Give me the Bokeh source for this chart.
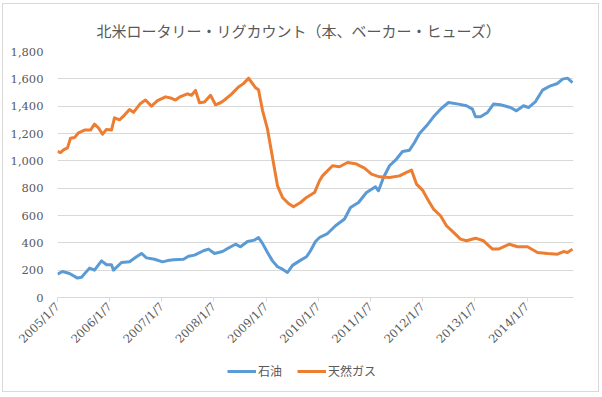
from datetime import datetime
import pandas as pd
from bokeh.plotting import figure
from bokeh.layouts import column
from bokeh.models import (ColumnDataSource, Range1d, FixedTicker, NumeralTickFormatter,
                          CustomJSTickFormatter, Legend, LegendItem)
from bokeh.embed import file_html
from bokeh.resources import INLINE
from math import pi

title_text = "北米ロータリー・リグカウント（本、ベーカー・ヒューズ）"
series_names = ["石油", "天然ガス"]

oil_dates = ["2005-01-07", "2005-02-11", "2005-04-01", "2005-05-27", "2005-06-24", "2005-08-19",
             "2005-09-23", "2005-11-11", "2005-12-16", "2006-01-20", "2006-02-03", "2006-03-31",
             "2006-05-26", "2006-07-14", "2006-08-18", "2006-09-22", "2006-11-17", "2007-01-13",
             "2007-02-16", "2007-03-30", "2007-06-08", "2007-07-13", "2007-08-24", "2007-10-26",
             "2007-11-30", "2008-01-11", "2008-03-07", "2008-04-18", "2008-06-06", "2008-07-11",
             "2008-08-29", "2008-10-17", "2008-11-14", "2008-12-12", "2009-01-16", "2009-02-20",
             "2009-03-27", "2009-05-01", "2009-06-05", "2009-07-10", "2009-08-28", "2009-10-16",
             "2009-11-13", "2009-12-18", "2010-01-15", "2010-03-12", "2010-05-07", "2010-07-09",
             "2010-08-20", "2010-10-15", "2010-12-10", "2011-02-11", "2011-03-04", "2011-04-08",
             "2011-05-20", "2011-07-08", "2011-08-19", "2011-10-07", "2011-11-11", "2011-12-16",
             "2012-02-03", "2012-03-23", "2012-05-11", "2012-07-06", "2012-09-14", "2012-11-09",
             "2012-12-21", "2013-01-11", "2013-02-15", "2013-04-05", "2013-05-17", "2013-07-05",
             "2013-09-13", "2013-10-25", "2013-12-13", "2014-01-17", "2014-03-07", "2014-04-25",
             "2014-06-20", "2014-08-08", "2014-09-12", "2014-10-17", "2014-11-21"]
oil_values = [171, 190, 176, 142, 148, 215,
              200, 268, 240, 240, 200, 256,
              261, 298, 322, 290, 280, 261,
              270, 276, 280, 302, 310, 342,
              354, 322, 337, 362, 390, 371,
              410, 420, 439, 396, 329, 268,
              225, 207, 183, 235, 268, 298,
              342, 410, 439, 468, 525, 574,
              659, 695, 768, 810, 781, 878,
              964, 1013, 1068, 1078, 1134, 1200,
              1256, 1322, 1378, 1427, 1415, 1403,
              1378, 1322, 1322, 1354, 1415, 1410,
              1390, 1366, 1403, 1390, 1434, 1517,
              1549, 1566, 1598, 1605, 1573]

gas_dates = ["2005-01-07", "2005-01-28", "2005-02-18", "2005-03-18", "2005-04-08", "2005-05-06",
             "2005-06-03", "2005-07-15", "2005-08-26", "2005-09-23", "2005-10-21", "2005-11-18",
             "2005-12-16", "2006-01-20", "2006-02-10", "2006-03-17", "2006-04-21", "2006-05-26",
             "2006-06-23", "2006-08-11", "2006-09-15", "2006-10-27", "2006-12-08", "2007-02-02",
             "2007-03-09", "2007-04-13", "2007-05-18", "2007-07-06", "2007-08-03", "2007-08-31",
             "2007-09-28", "2007-11-02", "2007-12-14", "2008-01-18", "2008-02-22", "2008-03-21",
             "2008-05-09", "2008-06-27", "2008-08-01", "2008-09-05", "2008-09-26", "2008-10-24",
             "2008-11-14", "2008-12-12", "2009-01-16", "2009-02-20", "2009-03-27", "2009-05-01",
             "2009-06-12", "2009-07-17", "2009-09-04", "2009-10-16", "2009-12-11", "2010-01-15",
             "2010-02-05", "2010-04-16", "2010-06-04", "2010-07-30", "2010-09-24", "2010-11-26",
             "2011-01-14", "2011-03-11", "2011-05-20", "2011-07-29", "2011-09-16", "2011-10-21",
             "2011-11-25", "2012-01-06", "2012-02-17", "2012-03-23", "2012-05-11", "2012-06-22",
             "2012-08-10", "2012-09-28", "2012-11-09", "2013-01-11", "2013-03-08", "2013-05-10",
             "2013-06-21", "2013-09-06", "2013-11-01", "2014-01-10", "2014-03-21", "2014-05-30",
             "2014-08-08", "2014-09-19", "2014-10-17", "2014-11-21"]
gas_values = [1070, 1060, 1080, 1095, 1165, 1170,
              1205, 1225, 1225, 1268, 1240, 1195,
              1230, 1225, 1315, 1300, 1335, 1375,
              1355, 1420, 1445, 1400, 1440, 1468,
              1460, 1445, 1470, 1490, 1480, 1515,
              1425, 1430, 1480, 1410, 1425, 1445,
              1488, 1540, 1565, 1605, 1575, 1535,
              1520, 1370, 1232, 1024, 817, 732,
              688, 664, 695, 732, 768, 854,
              890, 964, 957, 988, 979, 947,
              903, 883, 878, 890, 915, 932,
              830, 786, 708, 647, 598, 525,
              476, 427, 415, 434, 415, 354,
              354, 390, 371, 371, 329, 322,
              317, 336, 329, 354]

tick_dates = ["2005-01-07", "2006-01-07", "2007-01-07", "2008-01-07", "2009-01-07",
              "2010-01-07", "2011-01-07", "2012-01-07", "2013-01-07", "2014-01-07"]
y_ticks = [0, 200, 400, 600, 800, 1000, 1200, 1400, 1600, 1800]

OIL_COLOR = "#5B9BD5"
GAS_COLOR = "#ED7D31"
TEXT_COLOR = "#595959"

oil_src = ColumnDataSource(dict(x=pd.to_datetime(oil_dates), y=oil_values))
gas_src = ColumnDataSource(dict(x=pd.to_datetime(gas_dates), y=gas_values))

p = figure(width=595, height=355, x_axis_type="datetime",
           x_range=Range1d(datetime(2005, 1, 7), datetime(2014, 11, 28)),
           y_range=Range1d(0, 1800),
           output_backend="svg", toolbar_location=None,
           min_border_left=54, min_border_right=25, min_border_top=47, min_border_bottom=62)

p.title.text = title_text
p.title.align = "left"
p.title.offset = 39
p.title.standoff = 22
p.title.text_font = "Noto Sans CJK JP"
p.title.text_font_size = "15px"
p.title.text_font_style = "normal"
p.title.text_color = TEXT_COLOR

p.outline_line_color = None
p.xgrid.visible = False
p.ygrid.grid_line_color = "#D9D9D9"
p.ygrid.grid_line_width = 1

tick_ms = [pd.Timestamp(d).value // 10**6 for d in tick_dates]
p.xaxis.ticker = FixedTicker(ticks=tick_ms)
p.xaxis.formatter = CustomJSTickFormatter(code="""
const d = new Date(tick);
return d.getUTCFullYear() + "/" + (d.getUTCMonth() + 1) + "/" + d.getUTCDate();
""")
p.xaxis.major_label_orientation = pi / 4
p.xaxis.axis_line_color = "#D9D9D9"
p.xaxis.major_tick_line_color = "#D9D9D9"
p.xaxis.major_tick_out = 4
p.xaxis.major_tick_in = 0
p.xaxis.minor_tick_line_color = None
p.xaxis.major_label_standoff = 3
p.xaxis.major_label_text_font = "DejaVu Serif"
p.xaxis.major_label_text_font_size = "11.5px"
p.xaxis.major_label_text_color = TEXT_COLOR

p.yaxis.ticker = FixedTicker(ticks=y_ticks)
p.yaxis.formatter = NumeralTickFormatter(format="0,0")
p.yaxis.axis_line_color = None
p.yaxis.major_tick_line_color = None
p.yaxis.minor_tick_line_color = None
p.yaxis.major_tick_out = 0
p.yaxis.major_label_standoff = 14
p.yaxis.major_label_text_font = "DejaVu Serif"
p.yaxis.major_label_text_font_size = "11.5px"
p.yaxis.major_label_text_color = TEXT_COLOR

p.line("x", "y", source=oil_src, line_color=OIL_COLOR, line_width=3, line_join="round")
p.line("x", "y", source=gas_src, line_color=GAS_COLOR, line_width=3, line_join="round")

# legend strip below the chart (its proxy lines lie outside the visible range)
lg = figure(width=595, height=32, x_range=Range1d(0, 1), y_range=Range1d(0, 1),
            output_backend="svg", toolbar_location=None,
            min_border_left=0, min_border_right=0, min_border_top=0, min_border_bottom=0)
lg.axis.visible = False
lg.grid.visible = False
lg.outline_line_color = None
l_oil = lg.line(x=[5, 6], y=[5, 6], line_color=OIL_COLOR, line_width=3)
l_gas = lg.line(x=[5, 6], y=[5, 6], line_color=GAS_COLOR, line_width=3)
legend = Legend(items=[LegendItem(label=series_names[0], renderers=[l_oil]),
                       LegendItem(label=series_names[1], renderers=[l_gas])],
                orientation="horizontal", location=(170, 12))
legend.label_text_font = "Noto Sans CJK JP"
legend.label_text_font_size = "12px"
legend.label_text_color = TEXT_COLOR
legend.glyph_width = 29
legend.glyph_height = 12
legend.label_standoff = 2
legend.spacing = 15
legend.padding = 0
legend.margin = 0
legend.border_line_color = None
legend.background_fill_alpha = 0
lg.add_layout(legend, "center")

layout = column(p, lg, spacing=0,
                styles={"border": "1px solid #D9D9D9", "margin-left": "2px", "margin-top": "3px"})

open("out.html", "w").write(file_html(layout, INLINE))
